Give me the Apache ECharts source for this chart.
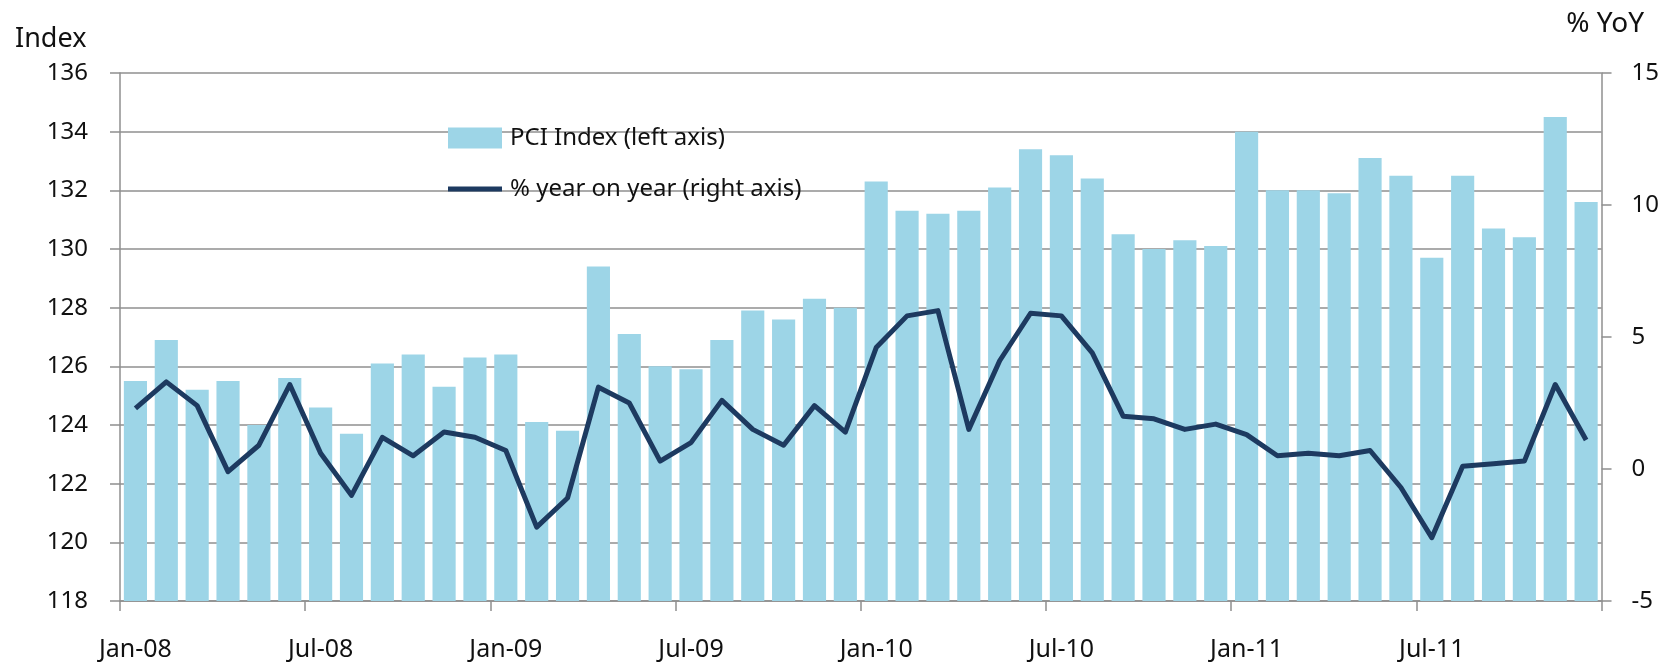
<!DOCTYPE html>
<html>
<head>
<meta charset="utf-8">
<title>PCI Index</title>
<script src="https://cdn.jsdelivr.net/npm/echarts@6/dist/echarts.min.js"></script>
<style>
    html, body { margin: 0; padding: 0; background: #fff; }
    #chart { width: 1662px; height: 662px; }
</style>
</head>
<body>
<div id="chart"></div>
<script>
const months = [
    'Jan-08', 'Feb-08', 'Mar-08', 'Apr-08', 'May-08', 'Jun-08', 'Jul-08', 'Aug-08', 'Sep-08', 'Oct-08', 'Nov-08', 'Dec-08',
    'Jan-09', 'Feb-09', 'Mar-09', 'Apr-09', 'May-09', 'Jun-09', 'Jul-09', 'Aug-09', 'Sep-09', 'Oct-09', 'Nov-09', 'Dec-09',
    'Jan-10', 'Feb-10', 'Mar-10', 'Apr-10', 'May-10', 'Jun-10', 'Jul-10', 'Aug-10', 'Sep-10', 'Oct-10', 'Nov-10', 'Dec-10',
    'Jan-11', 'Feb-11', 'Mar-11', 'Apr-11', 'May-11', 'Jun-11', 'Jul-11', 'Aug-11', 'Sep-11', 'Oct-11', 'Nov-11', 'Dec-11'
];

// PCI index, left axis
const pciIndex = [
    125.5, 126.9, 125.2, 125.5, 124.0, 125.6, 124.6, 123.7, 126.1, 126.4, 125.3, 126.3,
    126.4, 124.1, 123.8, 129.4, 127.1, 126.0, 125.9, 126.9, 127.9, 127.6, 128.3, 128.0,
    132.3, 131.3, 131.2, 131.3, 132.1, 133.4, 133.2, 132.4, 130.5, 130.0, 130.3, 130.1,
    134.0, 132.0, 132.0, 131.9, 133.1, 132.5, 129.7, 132.5, 130.7, 130.4, 134.5, 131.6
];

// % year on year, right axis
const yoy = [
    2.3, 3.3, 2.4, -0.1, 0.9, 3.2, 0.6, -1.0, 1.2, 0.5, 1.4, 1.2,
    0.7, -2.2, -1.1, 3.1, 2.5, 0.3, 1.0, 2.6, 1.5, 0.9, 2.4, 1.4,
    4.6, 5.8, 6.0, 1.5, 4.1, 5.9, 5.8, 4.4, 2.0, 1.9, 1.5, 1.7,
    1.3, 0.5, 0.6, 0.5, 0.7, -0.7, -2.6, 0.1, 0.2, 0.3, 3.2, 1.1
];

const FONT = 'Noto Sans';
const GRID_GREY = '#8f8f8f';
const BAR_BLUE = '#9dd5e7';
const LINE_NAVY = '#1d3a60';

const chart = echarts.init(document.getElementById('chart'));

chart.setOption({
    animation: false,
    textStyle: {fontFamily: FONT},
    title: [
        {text: 'Index', left: 10, top: 21, textStyle: {fontFamily: FONT, fontSize: 27, fontWeight: 'normal', color: '#111'}},
        {text: '% YoY', right: 13, top: 5, textStyle: {fontFamily: FONT, fontSize: 28, fontWeight: 'normal', color: '#111'}}
    ],
    legend: {
        orient: 'vertical',
        left: 443,
        top: 121,
        itemWidth: 54,
        itemHeight: 21,
        itemGap: 27,
        textStyle: {fontFamily: FONT, fontSize: 24, color: '#111', padding: [0, 0, 0, 3]},
        data: [
            {name: 'PCI Index (left axis)', icon: 'rect'},
            {name: '% year on year (right axis)', icon: 'path://M0,0H54V5H0Z'}
        ]
    },
    grid: {left: 120, right: 60, top: 73, bottom: 57},
    xAxis: {
        type: 'category',
        data: months,
        axisLine: {onZero: false, lineStyle: {color: GRID_GREY, width: 1.5}},
        axisTick: {show: true, interval: 5, length: 10, lineStyle: {color: GRID_GREY, width: 1.5}},
        axisLabel: {interval: 5, margin: 36, fontSize: 25, color: '#111'}
    },
    yAxis: [
        {
            type: 'value',
            min: 118,
            max: 136,
            interval: 2,
            axisLine: {show: true, lineStyle: {color: GRID_GREY, width: 1.5}},
            axisTick: {show: true, length: 10, lineStyle: {color: GRID_GREY, width: 1.5}},
            splitLine: {lineStyle: {color: GRID_GREY, width: 1.5}},
            axisLabel: {fontSize: 24, color: '#111', margin: 32}
        },
        {
            type: 'value',
            min: -5,
            max: 15,
            interval: 5,
            position: 'right',
            axisLine: {show: true, lineStyle: {color: GRID_GREY, width: 1.5}},
            axisTick: {show: true, length: 10, lineStyle: {color: GRID_GREY, width: 1.5}},
            splitLine: {show: false},
            axisLabel: {fontSize: 24, color: '#111', margin: 30}
        }
    ],
    series: [
        {
            name: 'PCI Index (left axis)',
            type: 'bar',
            yAxisIndex: 0,
            data: pciIndex,
            barCategoryGap: '25%',
            itemStyle: {color: BAR_BLUE}
        },
        {
            name: '% year on year (right axis)',
            type: 'line',
            yAxisIndex: 1,
            data: yoy,
            symbol: 'none',
            showSymbol: false,
            lineStyle: {color: LINE_NAVY, width: 5, join: 'round'},
            itemStyle: {color: LINE_NAVY}
        }
    ]
});
</script>
</body>
</html>
